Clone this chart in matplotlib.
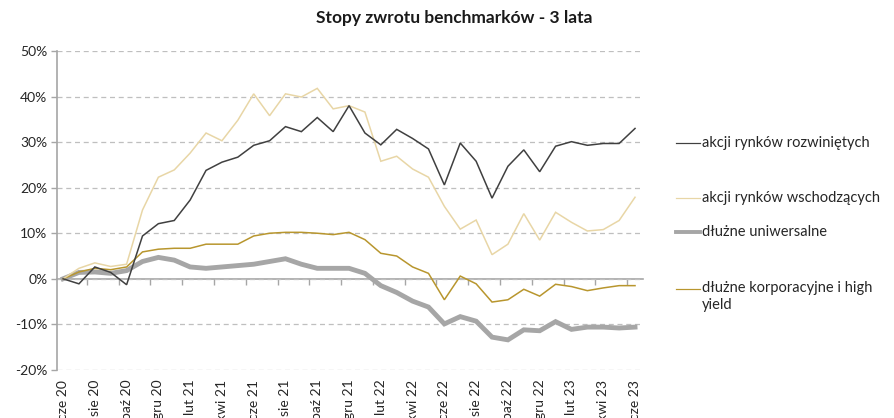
import matplotlib
matplotlib.use("Agg")
import matplotlib.pyplot as plt
from matplotlib.lines import Line2D
from matplotlib.ticker import FuncFormatter

plt.rcParams['font.family'] = ['Lato', 'DejaVu Sans']

months = ["cze 20", "lip 20", "sie 20", "wrz 20", "paź 20", "lis 20", "gru 20",
          "sty 21", "lut 21", "mar 21", "kwi 21", "maj 21", "cze 21", "lip 21",
          "sie 21", "wrz 21", "paź 21", "lis 21", "gru 21", "sty 22", "lut 22",
          "mar 22", "kwi 22", "maj 22", "cze 22", "lip 22", "sie 22", "wrz 22",
          "paź 22", "lis 22", "gru 22", "sty 23", "lut 23", "mar 23", "kwi 23",
          "maj 23", "cze 23"]

akcje_rozwiniete = [0.0, -1.1, 2.6, 1.4, -1.3, 9.4, 12.1, 12.8, 17.3, 23.8,
                    25.6, 26.7, 29.3, 30.3, 33.4, 32.3, 35.4, 32.3, 38.0, 32.0,
                    29.4, 32.8, 30.8, 28.5, 20.6, 29.8, 25.8, 17.7, 24.7, 28.3,
                    23.5, 29.1, 30.1, 29.3, 29.7, 29.7, 33.0]
akcje_wschodzace = [0.0, 2.3, 3.5, 2.7, 3.2, 15.1, 22.3, 23.9, 27.6, 32.0,
                    30.3, 34.8, 40.6, 35.8, 40.6, 39.9, 41.8, 37.3, 38.0, 36.6,
                    25.8, 26.9, 24.1, 22.3, 15.9, 10.9, 12.9, 5.3, 7.6, 14.3,
                    8.5, 14.6, 12.4, 10.5, 10.8, 12.8, 17.9]
dluzne_uniwersalne = [0.0, 1.4, 1.5, 1.2, 1.8, 3.8, 4.7, 4.1, 2.6, 2.3,
                      2.6, 2.9, 3.2, 3.8, 4.4, 3.2, 2.3, 2.3, 2.3, 1.2,
                      -1.5, -3.0, -4.9, -6.2, -9.9, -8.3, -9.3, -12.8, -13.4, -11.2,
                      -11.4, -9.4, -11.1, -10.6, -10.6, -10.8, -10.6]
dluzne_korporacyjne = [0.0, 1.5, 2.3, 2.0, 2.6, 5.9, 6.5, 6.7, 6.7, 7.6,
                       7.6, 7.6, 9.4, 10.0, 10.2, 10.2, 10.0, 9.7, 10.2, 8.6,
                       5.6, 5.0, 2.6, 1.2, -4.6, 0.6, -1.1, -5.1, -4.6, -2.3,
                       -3.8, -1.2, -1.7, -2.6, -2.0, -1.5, -1.5]

labels = ["akcji rynków rozwiniętych", "akcji rynków wschodzących",
          "dłużne uniwersalne", "dłużne korporacyjne i high\nyield"]
colors = ["#404040", "#E8D6A6", "#A6A6A6", "#B8962E"]
widths = [1.1, 1.1, 3.5, 1.1]
series = [akcje_rozwiniete, akcje_wschodzace, dluzne_uniwersalne, dluzne_korporacyjne]

fig = plt.figure(figsize=(8.95, 4.18), dpi=100)
ax = fig.add_axes([0.0637, 0.115, 0.6547, 0.763])

x = list(range(len(months)))
# thick gray one at the back
for i in [2, 3, 1, 0]:
    ax.plot(x, series[i], color=colors[i], lw=widths[i], solid_joinstyle='miter', zorder=3)

ax.set_xlim(-0.38, 36.5)
ax.set_ylim(-20, 50)
ax.set_yticks(range(-20, 51, 10))
ax.yaxis.set_major_formatter(FuncFormatter(lambda v, p: f"{v:.0f}%"))
ax.grid(axis='y', color='#BFBFBF', linestyle=(0, (4, 3)), lw=0.9, zorder=1)

ax.set_xticks(x[::2])
ax.set_xticklabels(months[::2], rotation=90, va='top', ha='center')
ax.tick_params(axis='x', length=0, pad=7, labelsize=10, labelcolor='#262626')
ax.tick_params(axis='y', length=4, width=1, color='#A6A6A6', labelsize=10,
               labelcolor='#262626', pad=3)

for side in ['top', 'right', 'bottom']:
    ax.spines[side].set_visible(False)
ax.spines['left'].set_color('#A6A6A6')
ax.spines['left'].set_linewidth(1.2)

# os kategorii przecina w 0
sec = ax.secondary_xaxis(0, transform=ax.transData)
sec.set_xticks([v + 0.5 for v in x[1:-1:2]])
sec.set_xticklabels([])
sec.tick_params(axis='x', length=4, width=1, color='#A6A6A6', direction='out')
sec.spines['bottom'].set_color('#A6A6A6')
sec.spines['bottom'].set_linewidth(1.2)

fig.text(0.508, 0.957, "Stopy zwrotu benchmarków - 3 lata", ha='center', va='center',
         fontsize=12.5, fontweight='bold', color='#1a1a1a')

# legenda, pozycje w pikselach od gory
leg_y = [143, 198, 232, 289]
W, H = 895, 418
for i in range(4):
    yf = 1 - leg_y[i] / H
    fig.add_artist(Line2D([676 / W, 700 / W], [yf, yf], color=colors[i], lw=widths[i] * 0.8))
    if "\n" in labels[i]:
        fig.text(702 / W, yf + 8 / H, labels[i], ha='left', va='top', fontsize=10.5,
                 color='#262626', linespacing=1.3)
    else:
        fig.text(702 / W, yf, labels[i], ha='left', va='center', fontsize=10.5, color='#262626')

fig.savefig("out.png", dpi=100)
